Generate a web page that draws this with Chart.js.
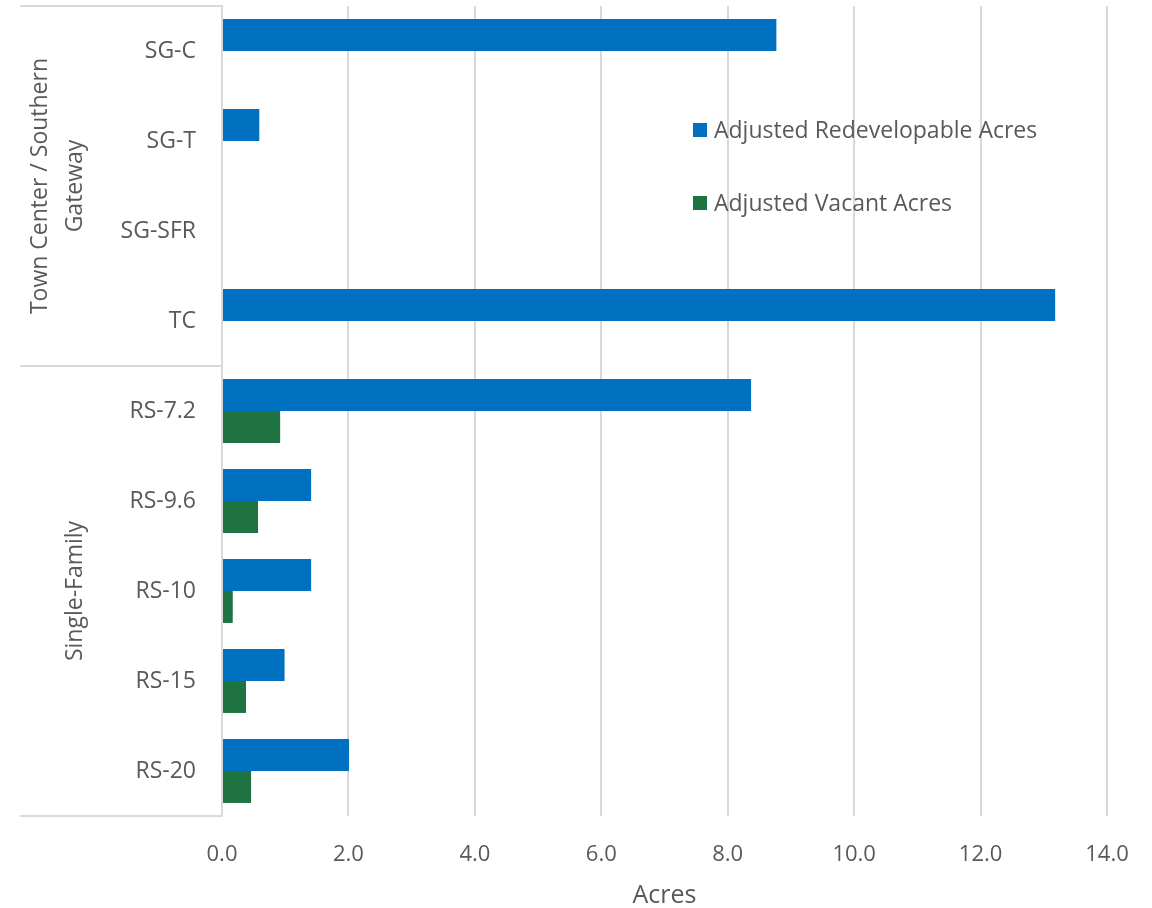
<!DOCTYPE html>
<html lang="en">
<head>
<meta charset="UTF-8">
<title>Adjusted Acres by Zone</title>
<script src="https://cdn.jsdelivr.net/npm/chart.js"></script>
<style>
  html, body { margin: 0; padding: 0; background: #fff; }
</style>
</head>
<body>
<canvas id="acresChart" width="1152" height="908"></canvas>
<script>
// zones, top to bottom
var zones = ['SG-C', 'SG-T', 'SG-SFR', 'TC', 'RS-7.2', 'RS-9.6', 'RS-10', 'RS-15', 'RS-20'];
var redevelopable = [8.77, 0.59, 0, 13.18, 8.37, 1.41, 1.41, 0.99, 2.01];
var vacant = [0, 0, 0, 0, 0.92, 0.57, 0.17, 0.38, 0.46];
var xTicks = [0, 2, 4, 6, 8, 10, 12, 14];
// zone groups shown at the far left
var groupNames = [['Town Center / Southern', 'Gateway'], ['Single-Family']];
var groupStart = [0, 4];
var groupEnd = [3, 8];

var textColor = '#595959';
var lineColor = '#d9d9d9';
var fontFamily = '"Open Sans", "Noto Sans", sans-serif';

// group brackets + rotated group names in the label column
var groupPlugin = {
  id: 'groups',
  afterDraw: function (chart) {
    var ctx = chart.ctx, y = chart.scales.y, area = chart.chartArea;
    var half = (y.getPixelForValue(1) - y.getPixelForValue(0)) / 2;
    ctx.save();
    ctx.strokeStyle = lineColor;
    ctx.lineWidth = 2;
    var edges = [area.top];
    for (var g = 0; g < groupNames.length; g++) {
      edges.push(y.getPixelForValue(groupEnd[g]) + half);
    }
    edges.forEach(function (e) {
      ctx.beginPath();
      ctx.moveTo(20, e);
      ctx.lineTo(area.left, e);
      ctx.stroke();
    });
    ctx.fillStyle = textColor;
    ctx.font = '23px ' + fontFamily;
    ctx.textAlign = 'center';
    ctx.textBaseline = 'middle';
    for (var i = 0; i < groupNames.length; i++) {
      var top = y.getPixelForValue(groupStart[i]) - half;
      var bottom = y.getPixelForValue(groupEnd[i]) + half;
      var lines = groupNames[i];
      ctx.save();
      ctx.translate(75, (top + bottom) / 2);
      ctx.rotate(-Math.PI / 2);
      for (var k = 0; k < lines.length; k++) {
        var offset = (k - (lines.length - 1)) * 35;
        ctx.fillText(lines[k], 0, offset);
      }
      ctx.restore();
    }
    ctx.restore();
  }
};

// legend sits inside the plot, stacked with wide spacing
var insideLegend = {
  id: 'insideLegend',
  afterDraw: function (chart) {
    var ctx = chart.ctx;
    ctx.save();
    ctx.font = '23px ' + fontFamily;
    ctx.textBaseline = 'middle';
    ctx.textAlign = 'left';
    chart.data.datasets.forEach(function (ds, i) {
      var cy = 130 + i * 73;
      ctx.fillStyle = ds.backgroundColor;
      ctx.fillRect(693, cy - 7, 14, 14);
      ctx.fillStyle = textColor;
      ctx.fillText(ds.label, 714, cy + 1);
    });
    ctx.restore();
  }
};

new Chart(document.getElementById('acresChart'), {
  type: 'bar',
  data: {
    labels: zones,
    datasets: [
      { label: 'Adjusted Redevelopable Acres', data: redevelopable, backgroundColor: '#0070c0' },
      { label: 'Adjusted Vacant Acres', data: vacant, backgroundColor: '#1e7340' }
    ]
  },
  options: {
    indexAxis: 'y',
    responsive: false,
    animation: false,
    devicePixelRatio: 1,
    categoryPercentage: 0.71,
    barPercentage: 1,
    layout: { padding: { top: 6, right: 45, left: 0, bottom: 0 } },
    plugins: { legend: { display: false }, tooltip: { enabled: false } },
    scales: {
      x: {
        min: 0,
        max: 14,
        afterBuildTicks: function (scale) {
          scale.ticks = xTicks.map(function (v) { return { value: v }; });
        },
        afterFit: function (scale) {
          scale.height = 92;
          scale.paddingLeft = 0;
          scale.paddingRight = 0;
        },
        grid: { color: lineColor, lineWidth: 2, drawTicks: false },
        border: { display: false },
        ticks: {
          color: textColor,
          padding: 26,
          font: { family: fontFamily, size: 22 },
          callback: function (v) { return v.toFixed(1); }
        },
        title: {
          display: true,
          text: 'Acres',
          color: textColor,
          padding: { top: 0, bottom: -3 },
          font: { family: fontFamily, size: 25 }
        }
      },
      y: {
        afterFit: function (scale) {
          scale.width = 222;
          scale.paddingTop = 0;
          scale.paddingBottom = 0;
        },
        grid: { display: false, drawTicks: false },
        border: { display: true, color: lineColor, width: 2 },
        ticks: {
          color: textColor,
          padding: 26,
          font: { family: fontFamily, size: 23 }
        }
      }
    }
  },
  plugins: [groupPlugin, insideLegend]
});
</script>
</body>
</html>
